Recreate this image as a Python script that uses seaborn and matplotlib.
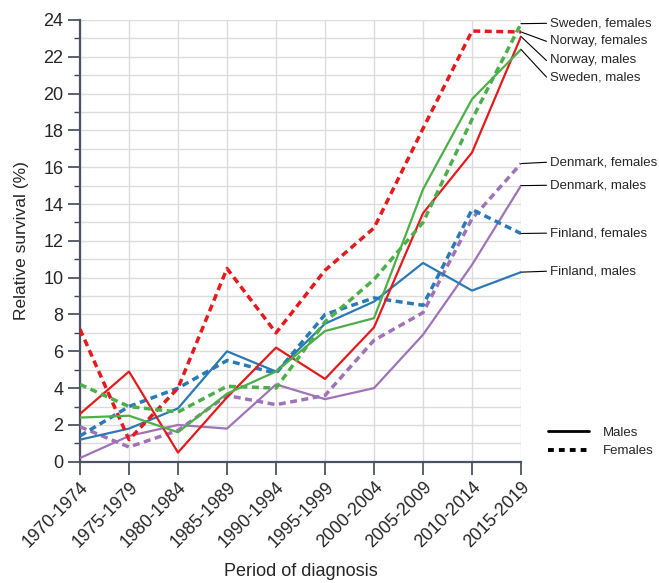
import numpy as np
import pandas as pd
import matplotlib
matplotlib.use("Agg")
import matplotlib.pyplot as plt
from matplotlib.lines import Line2D
from matplotlib.ticker import MultipleLocator
import seaborn as sns

periods = ["1970-1974", "1975-1979", "1980-1984", "1985-1989", "1990-1994",
           "1995-1999", "2000-2004", "2005-2009", "2010-2014", "2015-2019"]

norway_males = [2.6, 4.9, 0.5, 3.5, 6.2, 4.5, 7.3, 13.5, 16.8, 23.1]
norway_females = [7.2, 1.2, 4.0, 10.5, 7.0, 10.4, 12.7, 18.1, 23.4, 23.35]
sweden_males = [2.4, 2.5, 1.6, 3.7, 4.9, 7.1, 7.8, 14.8, 19.7, 22.4]
sweden_females = [4.2, 3.0, 2.7, 4.1, 4.0, 7.6, 9.9, 13.0, 18.6, 23.8]
finland_males = [1.2, 1.8, 2.9, 6.0, 4.9, 7.5, 8.7, 10.8, 9.3, 10.3]
finland_females = [1.4, 3.0, 4.0, 5.5, 4.8, 8.0, 8.9, 8.5, 13.7, 12.4]
denmark_males = [0.2, 1.4, 2.0, 1.8, 4.2, 3.4, 4.0, 6.9, 10.7, 15.0]
denmark_females = [1.9, 0.8, 1.7, 3.6, 3.1, 3.6, 6.6, 8.1, 13.2, 16.2]

series = {
    ("Norway", "Males"): norway_males,
    ("Norway", "Females"): norway_females,
    ("Sweden", "Males"): sweden_males,
    ("Sweden", "Females"): sweden_females,
    ("Finland", "Males"): finland_males,
    ("Finland", "Females"): finland_females,
    ("Denmark", "Males"): denmark_males,
    ("Denmark", "Females"): denmark_females,
}

palette = {"Norway": "#e41a1c", "Sweden": "#4daf4a",
           "Finland": "#2a7ab6", "Denmark": "#a073b9"}

rows = []
for (country, sex), vals in series.items():
    for i, v in enumerate(vals):
        rows.append({"pos": i, "survival": v, "country": country, "sex": sex})
df = pd.DataFrame(rows)

sns.set_style("white")
plt.rcParams["font.family"] = ["Liberation Sans", "DejaVu Sans"]

fig = plt.figure(figsize=(6.59, 5.83), dpi=100)
ax = fig.add_axes([0.1214, 0.208, 0.6692, 0.7577])

for (country, sex), sub in df.groupby(["country", "sex"]):
    if sex == "Males":
        sns.lineplot(data=sub, x="pos", y="survival", color=palette[country],
                     lw=1.6, ax=ax, legend=False, zorder=3)
    else:
        sns.lineplot(data=sub, x="pos", y="survival", color=palette[country],
                     lw=2.5, ax=ax, legend=False, zorder=3,
                     dashes=False, linestyle=(0, (2.0, 1.3)))

ax.set_xlim(0, len(periods) - 1)
ax.set_ylim(0, 24)
ax.set_xticks(range(len(periods)))
ax.set_xticklabels(periods, rotation=45, ha="right", rotation_mode="anchor",
                   fontsize=12.8)
ax.yaxis.set_major_locator(MultipleLocator(2))
ax.yaxis.set_minor_locator(MultipleLocator(1))
ax.tick_params(axis="y", labelsize=13)
ax.tick_params(axis="both", which="major", direction="out", length=9,
               width=1.2, color="#3d4656", bottom=True, left=True, pad=3)
ax.tick_params(axis="y", which="minor", direction="out", length=4.5,
               width=1.0, color="#3d4656", left=True)

ax.grid(True, which="both", color="#dcdcdc", lw=1.0, zorder=0)
ax.set_axisbelow(True)
for side in ("top", "right"):
    ax.spines[side].set_visible(False)
for side in ("left", "bottom"):
    ax.spines[side].set_color("#4a5363")
    ax.spines[side].set_linewidth(1.6)

ax.set_xlabel("Period of diagnosis", fontsize=13, labelpad=9)
ax.set_ylabel("Relative survival (%)", fontsize=12.5, labelpad=10)

# labels for the end of each line, with leader lines
last = len(periods) - 1
labels = [
    ("Sweden, females", sweden_females, 23.82),
    ("Norway, females", norway_females, 22.84),
    ("Norway, males", norway_males, 21.80),
    ("Sweden, males", sweden_males, 20.90),
    ("Denmark, females", denmark_females, 16.27),
    ("Denmark, males", denmark_males, 15.02),
    ("Finland, females", finland_females, 12.42),
    ("Finland, males", finland_males, 10.35),
]
for text, vals, ty in labels:
    ax.plot([last, last + 0.52], [vals[-1], ty], color="black", lw=0.8,
            clip_on=False, zorder=4)
    ax.text(last + 0.59, ty, text, fontsize=9.5, va="center", ha="left",
            clip_on=False)

handles = [Line2D([], [], color="black", lw=2.0),
           Line2D([], [], color="black", lw=2.8, linestyle=(0, (1.5, 1.3)))]
ax.legend(handles, ["Males", "Females"], loc="center left",
          bbox_to_anchor=(1.035, 0.045), frameon=False, fontsize=9.5,
          handlelength=3.1, handletextpad=1.0, labelspacing=0.5)

fig.savefig("out.png", dpi=100)
